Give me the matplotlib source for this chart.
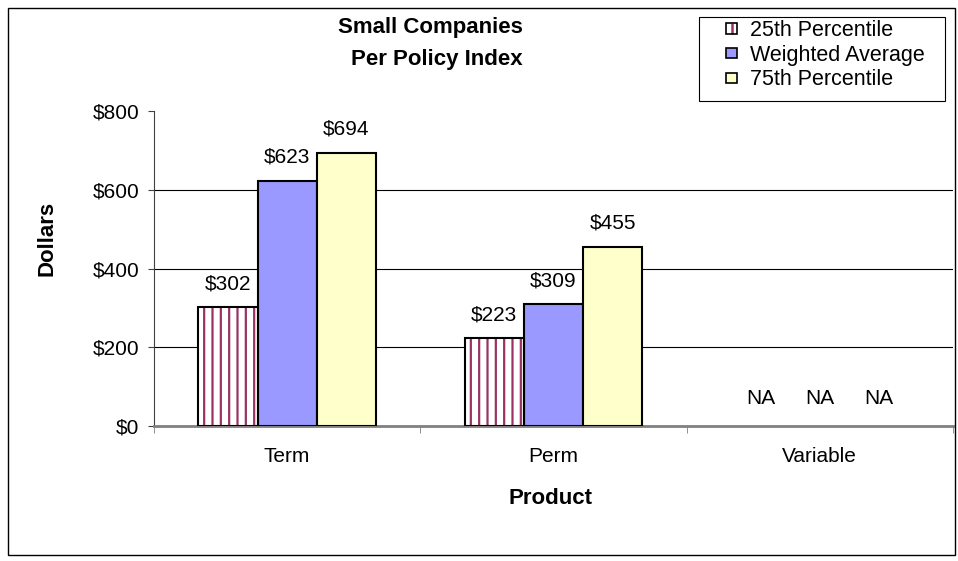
import numpy as np
import matplotlib
matplotlib.use("Agg")
import matplotlib.pyplot as plt
from matplotlib.patches import Rectangle, Patch
from matplotlib.lines import Line2D
from matplotlib.legend_handler import HandlerBase

plt.rcParams['font.family'] = ['Liberation Sans', 'DejaVu Sans']
plt.rcParams['hatch.linewidth'] = 1.6

categories = ["Term", "Perm", "Variable"]
series_names = ["25th Percentile", "Weighted Average", "75th Percentile"]
p25 = [302, 223, None]
wavg = [623, 309, None]
p75 = [694, 455, None]
series = [p25, wavg, p75]
yticks = [0, 200, 400, 600, 800]
ytick_labels = ["$0", "$200", "$400", "$600", "$800"]

colors = ["white", "#9999FF", "#FFFFCC"]
hatches = ["||", None, None]
hatch_color = "#993366"
FS = 15
FSL = 15.5
FSB = 16

W, H = 958, 561
fig = plt.figure(figsize=(W / 100, H / 100), dpi=100)
ax = fig.add_axes([154 / W, 1 - 426 / H, (953 - 154) / W, (426 - 111) / H])

x = np.arange(len(categories))
bw = 0.222
for i, (vals, col, hat) in enumerate(zip(series, colors, hatches)):
    offs = (i - 1) * bw
    for j, v in enumerate(vals):
        xc = x[j] + offs
        if v is None:
            ax.annotate("NA", (xc, 0), xytext=(0, 13), textcoords="offset points",
                        ha="center", va="bottom", fontsize=FS)
            continue
        if hat:
            ax.bar(xc, v, bw, color=col, edgecolor=hatch_color, hatch=hat,
                   linewidth=0, zorder=3)
            ax.bar(xc, v, bw, fill=False, edgecolor="black", linewidth=1.5, zorder=4)
        else:
            ax.bar(xc, v, bw, color=col, edgecolor="black", linewidth=1.5, zorder=3)
        ax.annotate(f"${v}", (xc, v), xytext=(0, 10), textcoords="offset points",
                    ha="center", va="bottom", fontsize=FS)

ax.set_xlim(-0.5, len(categories) - 0.5)
ax.set_ylim(0, 800)
ax.set_yticks(yticks)
ax.set_yticklabels(ytick_labels, fontsize=FS)
ax.set_xticks(x)
ax.set_xticklabels(categories, fontsize=FS)
ax.tick_params(axis="x", which="major", length=0, pad=15)
ax.set_xticks(np.arange(len(categories) + 1) - 0.5, minor=True)
ax.tick_params(axis="x", which="minor", length=5, direction="out", color="#808080")
ax.tick_params(axis="y", length=4.5, direction="out", pad=6, color="#404040")
for yv in yticks[1:-1]:
    ax.axhline(yv, color="black", linewidth=0.8, zorder=1)
for s in ["top", "right"]:
    ax.spines[s].set_visible(False)
ax.spines["left"].set_color("#404040")
ax.spines["bottom"].set_color("#808080")
ax.spines["bottom"].set_linewidth(2)

ax.set_ylabel("Dollars", fontsize=FSB, fontweight="bold", va="center")
ax.yaxis.set_label_coords((47 - 154) / 799, (426 - 238.5) / 315)
ax.set_xlabel("Product", fontsize=FSB, fontweight="bold", va="center")
ax.xaxis.set_label_coords((551 - 154) / 799, (426 - 498) / 315)

fig.text(430 / W, 1 - 27 / H, "Small Companies", ha="center", va="center",
         fontsize=FSB, fontweight="bold")
fig.text(437 / W, 1 - 59 / H, "Per Policy Index", ha="center", va="center",
         fontsize=FSB, fontweight="bold")


class SquareHandler(HandlerBase):
    def create_artists(self, legend, orig_handle, xdescent, ydescent,
                       width, height, fontsize, trans):
        s = 0.48 * fontsize
        x0 = -xdescent + width - s
        y0 = -ydescent + (height - s) / 2
        arts = []
        if orig_handle.get_hatch():
            arts.append(Rectangle((x0, y0), s, s, facecolor=orig_handle.get_facecolor(),
                                  edgecolor="none", transform=trans))
            arts.append(Line2D([x0 + s / 2, x0 + s / 2], [y0, y0 + s],
                               color=hatch_color, linewidth=1.8,
                               solid_capstyle="butt", transform=trans))
            arts.append(Rectangle((x0, y0), s, s, fill=False,
                                  edgecolor="black", linewidth=1.2, transform=trans))
        else:
            arts.append(Rectangle((x0, y0), s, s, facecolor=orig_handle.get_facecolor(),
                                  edgecolor="black", linewidth=1.2, transform=trans))
        return arts


handles = [Patch(facecolor=c, hatch=h) for c, h in zip(colors, hatches)]
leg = fig.legend(handles, series_names, loc="upper left",
                 bbox_to_anchor=(699 / W, 1 - 13.5 / H), fontsize=FSL,
                 handler_map={Patch: SquareHandler()},
                 handlelength=1.45, handletextpad=0.6,
                 labelspacing=0.17, borderpad=0.3, frameon=False,
                 borderaxespad=0)

# legend frame box
fig.add_artist(Rectangle((699 / W, 1 - 101 / H), (945 - 699) / W, (101 - 17) / H,
                         transform=fig.transFigure, facecolor="white",
                         edgecolor="black", linewidth=0.8, zorder=0))

fig.add_artist(Rectangle((8 / W, 1 - 555 / H), (955 - 8) / W, (555 - 8) / H,
                         transform=fig.transFigure, fill=False,
                         edgecolor="black", linewidth=1))

fig.savefig("out.png", dpi=100)
